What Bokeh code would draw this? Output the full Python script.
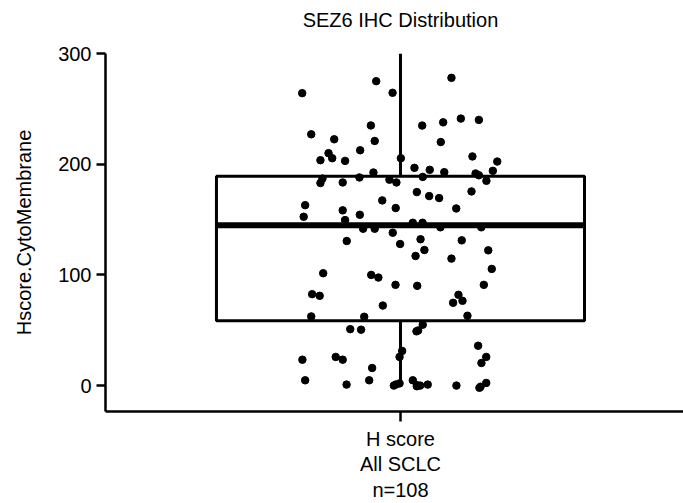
from bokeh.plotting import figure
from bokeh.models import Range1d, FixedTicker, ColumnDataSource, LinearAxis
from bokeh.embed import file_html
from bokeh.resources import INLINE

# ---- data ----
title_text = "SEZ6 IHC Distribution"
y_label = "Hscore.CytoMembrane"
category_label = "H score\nAll SCLC\nn=108"
y_ticks = [0, 100, 200, 300]

# H-score of each sample
hscore = [264.2, 275.0, 264.5, 278.0, 227.0, 222.5, 235.0, 221.0, 234.9, 237.8,
          241.2, 240.0, 220.0, 210.0, 205.4, 203.6, 203.0, 212.6, 205.4, 207.0,
          202.4, 196.7, 194.9, 192.8, 192.5, 191.6, 194.0, 187.0, 183.0, 183.5,
          188.0, 186.0, 183.5, 188.5, 190.0, 185.0, 174.8, 171.2, 169.4, 175.4,
          167.3, 163.0, 152.5, 158.3, 154.3, 149.5, 160.4, 160.0, 147.1, 147.1,
          141.7, 141.7, 143.0, 143.0, 138.1, 130.6, 132.2, 127.9, 131.2, 122.5,
          122.2, 117.1, 114.7, 105.4, 101.5, 100.0, 97.6, 91.0, 90.1, 91.0,
          82.6, 81.1, 72.3, 82.0, 74.8, 76.6, 62.5, 62.2, 63.1, 55.0,
          49.0, 49.8, 51.0, 50.5, 36.0, 31.3, 25.9, 23.4, 25.9, 23.4,
          25.9, 20.4, 15.9, 4.8, 0.9, 4.8, 0.0, 2.0, 4.8, -0.6,
          0.0, 0.9, 0.0, -2.0, 2.4, 0.3, 1.0, -1.0]

# horizontal jitter of each sample, in box half-widths
jitter = [-0.534, -0.132, -0.043, 0.277, -0.485, -0.360, -0.161, -0.140, 0.118, 0.232,
          0.328, 0.426, 0.219, -0.391, -0.371, -0.435, -0.301, -0.219, 0.002, 0.391,
          0.526, 0.076, 0.159, 0.238, -0.147, 0.408, 0.502, -0.424, -0.435, -0.314,
          -0.223, -0.060, -0.022, 0.121, 0.426, 0.467, 0.089, 0.156, 0.210, 0.386,
          -0.099, -0.518, -0.526, -0.314, -0.221, -0.301, -0.026, 0.303, 0.067, 0.120,
          -0.203, -0.140, 0.217, 0.439, -0.042, -0.292, 0.109, -0.002, 0.333, 0.130,
          0.477, 0.082, 0.277, 0.496, -0.420, -0.159, -0.120, -0.027, 0.091, 0.453,
          -0.480, -0.439, -0.096, 0.315, 0.286, 0.337, -0.485, -0.197, 0.364, 0.121,
          0.087, 0.096, -0.273, -0.214, 0.422, 0.009, -0.005, -0.533, -0.352, -0.314,
          0.466, 0.440, -0.154, -0.518, -0.293, -0.170, -0.036, -0.005, 0.067, 0.089,
          0.107, 0.148, 0.304, 0.429, 0.466, 0.090, -0.025, 0.435]

# box statistics
q1 = 58.6
median = 144.8
q3 = 189.2
whisker_low = 1.0
whisker_high = 300.0

FONT = "Liberation Sans"
FS = "20px"

p = figure(width=683, height=503, output_backend="svg", toolbar_location=None,
           x_range=Range1d(-1.603, 1.538), y_range=Range1d(-23.4, 300),
           min_border_left=105, min_border_right=0, min_border_top=53,
           min_border_bottom=91)
p.outline_line_color = None
p.xgrid.visible = False
p.ygrid.visible = False
p.background_fill_color = "white"
p.border_fill_color = "white"

# axes
for ax in (p.xaxis[0], p.yaxis[0]):
    ax.axis_line_width = 2.5
    ax.axis_line_color = "black"
    ax.major_tick_line_width = 2.5
    ax.major_tick_line_color = "black"
    ax.major_tick_in = 0
    ax.minor_tick_line_color = None
    ax.major_label_text_font = FONT
    ax.major_label_text_font_size = FS
    ax.major_label_text_color = "black"
    ax.axis_label_text_font = FONT
    ax.axis_label_text_font_size = FS
    ax.axis_label_text_font_style = "normal"
    ax.axis_label_text_color = "black"

p.yaxis.ticker = FixedTicker(ticks=y_ticks)
p.yaxis.major_tick_out = 9
p.yaxis.major_label_standoff = 5
p.yaxis.axis_label = y_label
p.yaxis.axis_label_standoff = 20

p.xaxis.ticker = FixedTicker(ticks=[0])
p.xaxis.major_label_overrides = {0: category_label}
p.xaxis.major_tick_out = 10
p.xaxis.major_label_standoff = 6
p.xaxis.major_label_text_line_height = 1.17

# title, centred over the category
title_axis = LinearAxis(ticker=FixedTicker(ticks=[0]),
                        major_label_overrides={0: title_text},
                        axis_line_color=None, major_tick_line_color=None,
                        minor_tick_line_color=None, major_tick_in=0,
                        major_tick_out=0, major_label_standoff=23,
                        major_label_text_font=FONT,
                        major_label_text_font_size=FS,
                        major_label_text_color="black")
p.add_layout(title_axis, "above")

# whiskers
p.segment(x0=[0, 0], y0=[q3, q1], x1=[0, 0], y1=[whisker_high, whisker_low],
          line_color="black", line_width=3)
# box
p.quad(left=[-1], right=[1], bottom=[q1], top=[q3], fill_color="white",
       fill_alpha=0, line_color="black", line_width=3)
# median
p.segment(x0=[-1], y0=[median], x1=[1], y1=[median], line_color="black",
          line_width=6)

# points
src = ColumnDataSource(data=dict(x=jitter, y=hscore))
p.scatter("x", "y", source=src, size=7.5, marker="circle", fill_color="black",
          line_color="black")

open("out.html", "w").write(file_html(p, INLINE))
